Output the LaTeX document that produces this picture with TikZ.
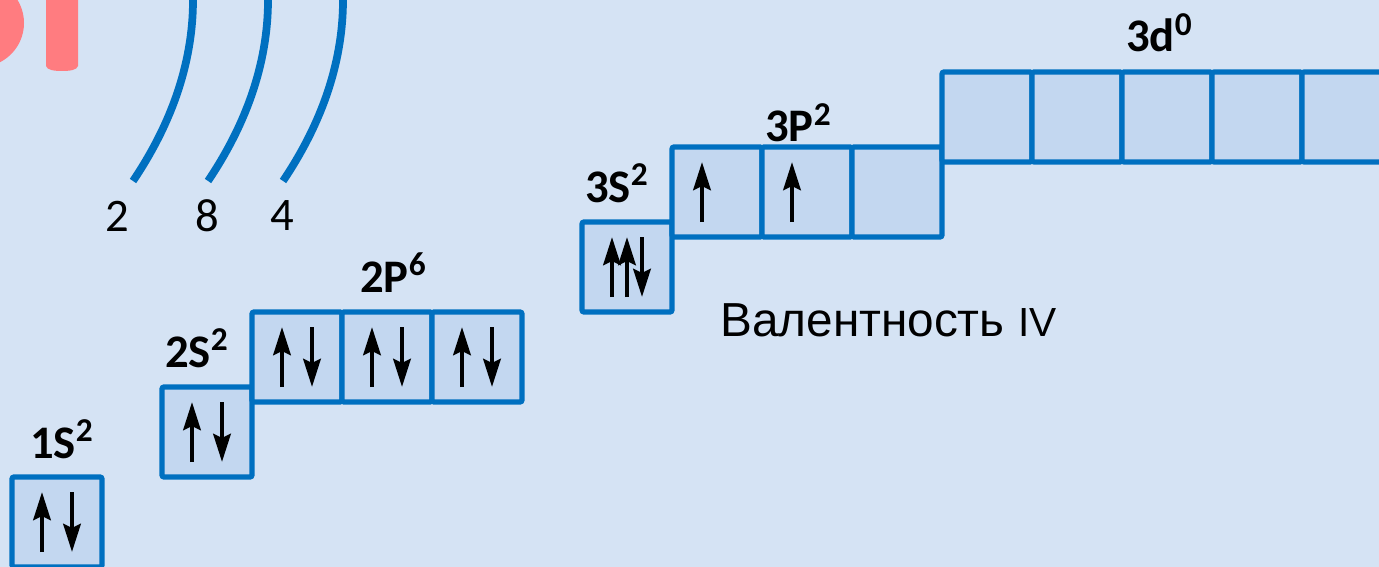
\documentclass[tikz,border=0pt]{standalone}
\usepackage{fontspec}
\setmainfont{Carlito}
\newfontfamily\valfont{Liberation Sans}
\usetikzlibrary{arrows.meta, positioning}
\definecolor{bgcolor}{HTML}{D5E3F4}
\definecolor{cellcolor}{HTML}{C3D7F0}
\definecolor{linecolor}{HTML}{0070C0}
\definecolor{pinkcolor}{HTML}{FF7C80}
\newcommand{\orbsup}[1]{\raisebox{.36em}{\fontsize{25}{25}\selectfont #1}}

\begin{document}
\begin{tikzpicture}[
    x=0.75pt, y=-0.75pt,
    cell/.style={rectangle, rounded corners=1.5pt, minimum size=67.5pt, inner sep=0pt, outer sep=0pt,
                 draw=linecolor, fill=cellcolor, line width=3.9pt},
    orblabel/.style={font=\bfseries\fontsize{35}{35}\selectfont, inner sep=0pt, anchor=base west},
    shellnum/.style={font=\fontsize{35}{35}\selectfont, inner sep=0pt},
    shell/.style={draw=linecolor, line width=5.8pt},
    spin/.style={-{Stealth[length=21pt, width=13pt, inset=3pt]}, line width=3.3pt, black},
]
\useasboundingbox (0,0) rectangle (1379,567);
\clip (0,0) rectangle (1379,567);
\fill[bgcolor] (0,0) rectangle (1379,567);

% Letters cut off at the corner
\fill[pinkcolor] (-20,23) circle (33pt);
\fill[pinkcolor] (46,0) -- (46,66) .. controls (47,70) and (54,71) .. (62,71)
    .. controls (70,71) and (77,70) .. (78,66) -- (78,0) -- cycle;

% Shells
\draw[shell] (133,181) .. controls (170,126) and (193,65) .. (193,0);
\draw[shell] (208,181) .. controls (245,126) and (268,65) .. (268,0);
\draw[shell] (283,181) .. controls (320,126) and (343,65) .. (343,0);
\node[shellnum] (n2) at (117,216) {2};
\node[shellnum] (n8) at (207,216) {8};
\node[shellnum] (n4) at (282,216) {4};

% Level 1 and 2
\node[cell] (s1) at (57,522) {};
\node[cell] (s2) at (207,432) {};
\node[cell] (p1) at (297,357) {};
\node[cell, right=0pt of p1] (p2) {};
\node[cell, right=0pt of p2] (p3) {};

% Level 3
\node[cell] (s3) at (627,267) {};
\node[cell] (q1) at (717,192) {};
\node[cell, right=0pt of q1] (q2) {};
\node[cell, right=0pt of q2] (q3) {};
\node[cell] (d1) at (987,117) {};
\node[cell, right=0pt of d1] (d2) {};
\node[cell, right=0pt of d2] (d3) {};
\node[cell, right=0pt of d3] (d4) {};
\node[cell, right=0pt of d4] (d5) {};

% Labels
\node[orblabel] (l1) at (30,458) {1S\orbsup{2}};
\node[orblabel] (l2) at (165,367) {2S\orbsup{2}};
\node[orblabel] (l3) at (360,292) {2P\orbsup{6}};
\node[orblabel] (l4) at (585,202) {3S\orbsup{2}};
\node[orblabel] (l5) at (765,142) {3P\orbsup{2}};
\node[orblabel] (l6) at (1126,52) {3d\orbsup{0}};
\node[font=\valfont\fontsize{35.8}{35.8}\selectfont, inner sep=0pt, anchor=base west] (val) at (720,336)
    {Валентность {\fontsize{30.5}{30.5}\selectfont IV}};

% Electrons
\foreach \b in {s1,s2,p1,p2,p3} {
    \draw[spin] ([xshift=-11.25pt, yshift=-22.5pt]\b.center) -- ([xshift=-11.25pt, yshift=22.5pt]\b.center);
    \draw[spin] ([xshift=11.25pt, yshift=22.5pt]\b.center) -- ([xshift=11.25pt, yshift=-22.5pt]\b.center);
}
\foreach \b in {q1,q2} {
    \draw[spin] ([xshift=-11.25pt, yshift=-22.5pt]\b.center) -- ([xshift=-11.25pt, yshift=22.5pt]\b.center);
}
\draw[spin] ([xshift=-11.25pt, yshift=-22.5pt]s3.center) -- ([xshift=-11.25pt, yshift=22.5pt]s3.center);
\draw[spin] ([yshift=-22.5pt]s3.center) -- ([yshift=22.5pt]s3.center);
\draw[spin] ([xshift=11.25pt, yshift=22.5pt]s3.center) -- ([xshift=11.25pt, yshift=-22.5pt]s3.center);
\end{tikzpicture}
\end{document}
